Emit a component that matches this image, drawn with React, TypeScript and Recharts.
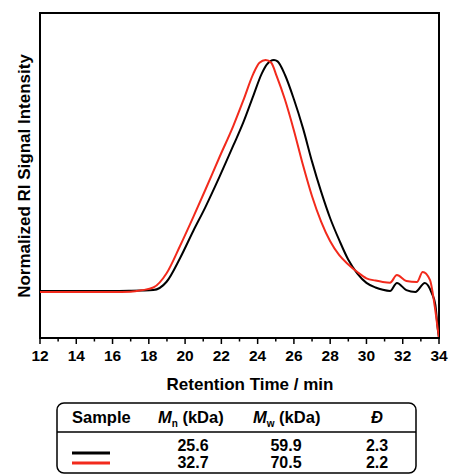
import { LineChart, Line, XAxis, YAxis, ReferenceArea } from 'recharts'

// retention time (min) and normalized RI signal (peak = 100)
const timeTicks = [12, 13, 14, 15, 16, 17, 18, 19, 20, 21, 22, 23, 24, 25, 26, 27, 28, 29, 30, 31, 32, 33, 34]

const blackTime = [12, 14, 16, 17, 17.6, 18.25, 18.98, 19.72, 20.45, 21.1, 21.9, 22.66, 23.21, 23.76, 24.22, 24.5, 24.9, 25.1, 25.51, 26, 26.5, 27, 27.5, 28, 28.5, 29, 29.5, 30, 30.5, 30.9, 31.3, 31.68, 32.2, 32.7, 33.22, 33.6, 33.8, 33.94, 34]
const blackSignal = [0, 0, 0, 0.1, 0.2, 0.4, 4, 14.2, 26, 36, 49.5, 63, 73, 84.5, 94, 98, 100, 99.4, 93.5, 83, 70.5, 56, 43, 31.5, 22, 13.5, 7.5, 3.5, 1.5, 0.5, 0, 3.5, 0.4, -0.4, 3.5, -0.9, -6, -16.9, -20.3]

const redTime = [12, 14, 16, 17, 17.6, 18.25, 18.98, 19.72, 20.45, 21.1, 21.9, 22.66, 23.21, 23.76, 24.1, 24.44, 24.75, 25.05, 25.5, 26, 26.5, 27, 27.5, 28, 28.5, 29, 29.5, 30, 30.5, 30.9, 31.3, 31.68, 32.2, 32.78, 33.1, 33.5, 33.77, 33.94, 34]
const redSignal = [-0.4, -0.4, -0.4, -0.3, 0.3, 1.5, 7.7, 19.5, 32, 43.5, 58, 71.5, 82.5, 94, 98.8, 100, 98.8, 93, 83, 69.5, 54.5, 41, 30, 21.5, 15.5, 11.5, 8.2, 5.5, 4.5, 3.9, 3.6, 6.9, 4.3, 3.9, 8.2, 4.8, -6.9, -16.9, -20.3]

// table
const sampleColors = ['#000000', '#f22a1c']
const mnValues = ['25.6', '32.7']
const mwValues = ['59.9', '70.5']
const dispersity = ['2.3', '2.2']

const blackData = blackTime.map((t, i) => ({ t, v: blackSignal[i] }))
const redData = redTime.map((t, i) => ({ t, v: redSignal[i] }))

const FONT = '"Liberation Sans", Arial, sans-serif'
const Y_MIN = -20.35
const Y_MAX = 120.35

function TimeTick({ x, y, payload }: any) {
  const major = payload.value % 2 === 0
  return (
    <g>
      <line x1={x} x2={x} y1={y} y2={y + (major ? 6 : 3.5)} stroke="#000" strokeWidth={1.5} />
      {major && (
        <text x={x} y={y + 23} textAnchor="middle" fontFamily={FONT} fontWeight="bold" fontSize={15.5} fill="#000">
          {payload.value}
        </text>
      )}
    </g>
  )
}

export default function App() {
  return (
    <div style={{ position: 'absolute', left: 0, top: 0, width: 452, height: 475, background: '#fff' }}>
      <LineChart width={452} height={400} margin={{ top: 13, right: 13, left: 40, bottom: 32 }}>
        <XAxis
          type="number"
          dataKey="t"
          domain={[12, 34]}
          ticks={timeTicks}
          interval={0}
          allowDataOverflow
          height={30}
          tickSize={0}
          tickMargin={0}
          tickLine={false}
          axisLine={{ stroke: '#000', strokeWidth: 2 }}
          tick={<TimeTick />}
        />
        <YAxis hide type="number" domain={[Y_MIN, Y_MAX]} allowDataOverflow />
        <ReferenceArea x1={12} x2={34} y1={Y_MIN} y2={Y_MAX} fill="none" fillOpacity={0} stroke="#000" strokeWidth={2} />
        <Line data={blackData} dataKey="v" type="monotone" stroke="#000" strokeWidth={2} dot={false} isAnimationActive={false} />
        <Line data={redData} dataKey="v" type="monotone" stroke="#f22a1c" strokeWidth={2} dot={false} isAnimationActive={false} />
      </LineChart>

      <svg width={452} height={475} style={{ position: 'absolute', left: 0, top: 0, pointerEvents: 'none' }} fontFamily={FONT} fontWeight="bold">
        <text x={250} y={390} textAnchor="middle" fontSize={17}>Retention Time / min</text>
        <text x={30} y={176} textAnchor="middle" fontSize={17} transform="rotate(-90 30 176)">Normalized RI Signal Intensity</text>

        <rect x={57} y={403} width={359} height={70} rx={7} fill="none" stroke="#000" strokeWidth={1.5} />
        <line x1={57} x2={416} y1={432} y2={432} stroke="#000" strokeWidth={1.5} />
        <text x={72} y={423} fontSize={16.5}>Sample</text>
        <text x={158} y={423} fontSize={16.5}>
          <tspan fontStyle="italic">M</tspan>
          <tspan fontSize={10} dy={4}>n</tspan>
          <tspan dy={-4}> (kDa)</tspan>
        </text>
        <text x={253} y={423} fontSize={16.5}>
          <tspan fontStyle="italic">M</tspan>
          <tspan fontSize={10} dy={4}>w</tspan>
          <tspan dy={-4}> (kDa)</tspan>
        </text>
        <text x={377} y={423} fontSize={16.5} textAnchor="middle" fontStyle="italic">Đ</text>

        {sampleColors.map((c, i) => (
          <g key={c}>
            <line x1={72} x2={110} y1={453 + i * 10} y2={453 + i * 10} stroke={c} strokeWidth={3} />
            <text x={193} y={451 + i * 17} fontSize={16} textAnchor="middle">{mnValues[i]}</text>
            <text x={286} y={451 + i * 17} fontSize={16} textAnchor="middle">{mwValues[i]}</text>
            <text x={377} y={451 + i * 17} fontSize={16} textAnchor="middle">{dispersity[i]}</text>
          </g>
        ))}
      </svg>
    </div>
  )
}
